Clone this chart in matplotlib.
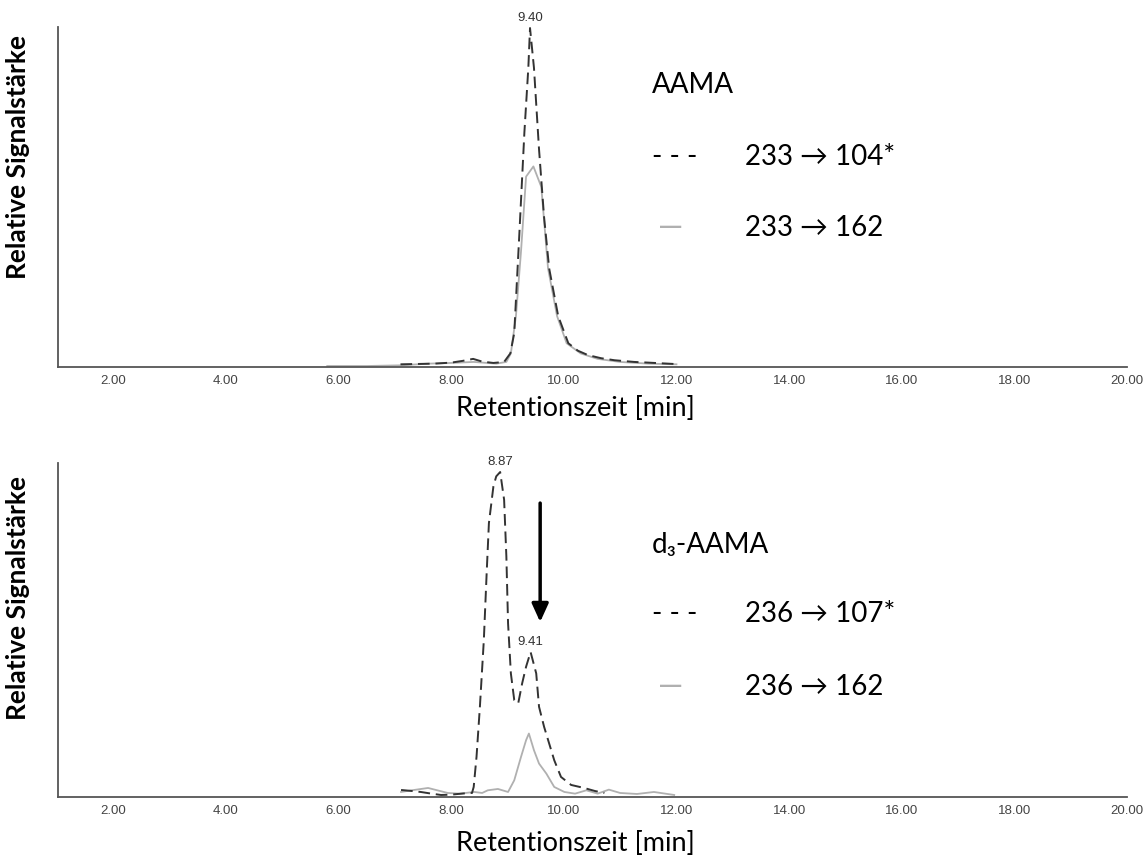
import matplotlib
matplotlib.use("Agg")
import matplotlib.pyplot as plt

plt.rcParams['font.family'] = ['Lato', 'DejaVu Sans']

# AAMA (top panel), relative intensity in % of the axis height
aama_t_104 = [7.10, 7.40, 7.70, 8.00, 8.20, 8.39, 8.55, 8.75, 8.94, 9.05, 9.12, 9.21, 9.30, 9.37, 9.40,
              9.47, 9.56, 9.65, 9.74, 9.90, 10.08, 10.25, 10.43, 10.66, 10.90, 11.25, 11.50, 11.96]
aama_i_104 = [0.8, 0.9, 1.0, 1.3, 1.8, 2.4, 1.6, 1.2, 1.5, 4.0, 10, 39, 69, 88, 99.7,
              88, 64, 44, 29, 15, 7, 4.8, 3.5, 2.6, 2.0, 1.5, 1.3, 0.9]
aama_t_162 = [5.80, 6.50, 7.10, 7.60, 8.00, 8.40, 8.80, 8.98, 9.06, 9.15, 9.24, 9.33, 9.46, 9.60,
              9.72, 9.88, 10.05, 10.30, 10.60, 11.00, 11.50, 12.00]
aama_i_162 = [0.3, 0.3, 0.5, 1.0, 1.2, 1.5, 1.0, 1.5, 4, 15, 34, 56, 59, 53,
              29, 15, 7, 4.0, 2.4, 1.5, 1.0, 0.8]

# d3-AAMA (bottom panel)
d3_t_107 = [7.11, 7.30, 7.46, 7.65, 7.82, 8.00, 8.12, 8.32, 8.37, 8.40, 8.45, 8.51, 8.58, 8.63, 8.67,
            8.75, 8.80, 8.87, 8.94, 8.98, 9.01, 9.06, 9.12, 9.19, 9.26, 9.33, 9.41, 9.51, 9.56, 9.65,
            9.74, 9.83, 9.95, 10.13, 10.36, 10.55, 10.72]
d3_i_107 = [2.1, 1.8, 1.5, 1.0, 0.6, 0.7, 0.9, 1.2, 1.2, 3, 12, 27, 47, 67, 82,
            93, 96, 97.3, 89, 72, 52, 37, 29, 28, 34, 39, 43.4, 37, 27, 21,
            16, 11, 6, 3.6, 2.7, 1.8, 1.2]
d3_t_162 = [7.11, 7.30, 7.59, 7.80, 7.94, 8.15, 8.41, 8.55, 8.65, 8.83, 8.95, 9.01, 9.12, 9.24, 9.33,
            9.38, 9.47, 9.56, 9.69, 9.83, 10.01, 10.20, 10.40, 10.60, 10.80, 11.00, 11.30, 11.60, 11.96]
d3_i_162 = [1.5, 2.0, 2.7, 1.8, 1.2, 1.0, 1.5, 1.2, 2.0, 2.4, 1.8, 1.5, 5, 12, 17,
            19, 14, 10, 7, 3, 1.5, 1.0, 2.0, 1.0, 2.2, 1.2, 0.9, 1.5, 0.6]

xticks = [2, 4, 6, 8, 10, 12, 14, 16, 18, 20]

panels = [
    dict(rect=[0.0506, 0.5747, 0.932, 0.394],
         quant=(aama_t_104, aama_i_104), qual=(aama_t_162, aama_i_162),
         peaks=[(9.40, 99.7, '9.40')],
         title='AAMA', q1='233 \u2192 104*', q2='233 \u2192 162',
         ylab_y=0.818, xlab_y=0.527, leg_y=[0.901, 0.818, 0.736]),
    dict(rect=[0.0506, 0.0765, 0.932, 0.387],
         quant=(d3_t_107, d3_i_107), qual=(d3_t_162, d3_i_162),
         peaks=[(8.87, 97.3, '8.87'), (9.41, 43.4, '9.41')],
         title='d\u2083-AAMA', q1='236 \u2192 107*', q2='236 \u2192 162',
         ylab_y=0.307, xlab_y=0.023, leg_y=[0.369, 0.289, 0.204]),
]

fig = plt.figure(figsize=(11.47, 8.63), dpi=100)

axes = []
for p in panels:
    ax = fig.add_axes(p['rect'])
    axes.append(ax)
    ax.plot(*p['qual'], color='#b0b0b0', lw=1.3)
    ax.plot(*p['quant'], color='#333333', lw=1.4, dashes=(6, 3))
    for t, h, lab in p['peaks']:
        ax.annotate(lab, (t, h), xytext=(0, 3), textcoords='offset points',
                    ha='center', va='bottom', fontsize=9.5, color='#333333',
                    family='Liberation Sans')
    ax.set_xlim(1.02, 20.0)
    ax.set_ylim(0, 100)
    ax.set_xticks(xticks)
    ax.set_xticklabels([f'{v:.2f}' for v in xticks], family='Liberation Sans',
                       fontsize=9.5, color='#444444')
    ax.set_yticks([])
    ax.tick_params(axis='x', length=0, pad=6)
    for s in ['top', 'right']:
        ax.spines[s].set_visible(False)
    for s in ['left', 'bottom']:
        ax.spines[s].set_color('#555555')
        ax.spines[s].set_linewidth(1.3)

    fig.text(0.016, p['ylab_y'], 'Relative Signalstärke', rotation=90, ha='center', va='center',
             fontsize=19, fontweight='bold')
    fig.text(0.502, p['xlab_y'], 'Retentionszeit [min]', ha='center', va='center', fontsize=19.5)

    ly = p['leg_y']
    fig.text(0.5684, ly[0], p['title'], ha='left', va='center', fontsize=20)
    fig.text(0.5684, ly[1], '- - -', ha='left', va='center', fontsize=20)
    fig.text(0.6495, ly[1], p['q1'], ha='left', va='center', fontsize=20)
    fig.text(0.5740, ly[2], '\u2014', ha='left', va='center', fontsize=23, color='#b0b0b0')
    fig.text(0.6495, ly[2], p['q2'], ha='left', va='center', fontsize=20)

# arrow pointing at the d3-AAMA peak
axes[1].annotate('', xy=(9.58, 52.4), xytext=(9.58, 88),
                 arrowprops=dict(arrowstyle='-|>,head_width=0.5,head_length=1.1',
                                 color='black', lw=2.5, shrinkA=0, shrinkB=0))

fig.savefig('out.png', dpi=100)
